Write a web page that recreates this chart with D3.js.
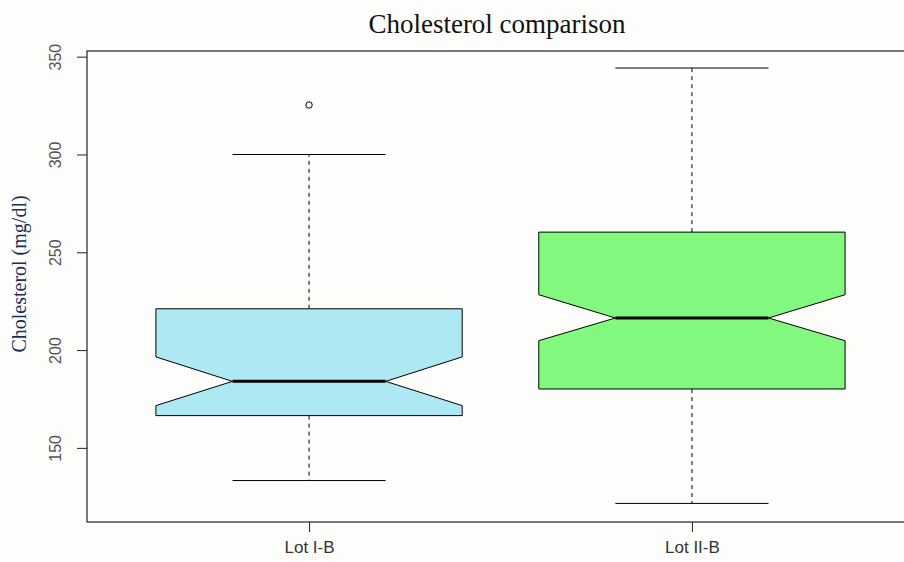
<!DOCTYPE html>
<html>
<head>
<meta charset="utf-8">
<script src="https://cdn.jsdelivr.net/npm/d3@7"></script>
<style>
  html, body { margin: 0; padding: 0; background: #fdfdfb; }
  svg { display: block; }
</style>
</head>
<body>
<svg id="chart" width="904" height="562"></svg>
<script>
// ---- data ----
const categories = ["Lot I-B", "Lot II-B"];
const whiskerLow  = [133.3, 121.6];
const q1          = [166.5, 180.1];
const medians     = [184.0, 216.4];
const q3          = [221.1, 260.3];
const whiskerHigh = [300.0, 344.2];
const notchLow    = [171.6, 204.8];
const notchHigh   = [196.5, 228.3];
const outliers    = [[325.3], []];
const fills       = ["#aee8f2", "#82f97e"];
const yTicks      = [150, 200, 250, 300, 350];

const title = "Cholesterol comparison";
const yLabel = "Cholesterol (mg/dl)";

// ---- layout ----
const svg = d3.select("#chart");
const mLeft = 87, mRight = 914, mTop = 51, mBottom = 522;

const x = d3.scaleLinear().domain([0.42, 2.58]).range([mLeft, mRight]);
const y = d3.scaleLinear().domain([112.1, 352.9]).range([mBottom, mTop]);

const boxHalf = (x(1.4) - x(1)); // half of 0.8 width
const g = svg.append("g");

categories.forEach((c, i) => {
  const cx = x(i + 1);
  const w = boxHalf;
  // whiskers (dashed)
  g.append("line").attr("x1", cx).attr("x2", cx)
    .attr("y1", y(q3[i])).attr("y2", y(whiskerHigh[i]))
    .attr("stroke", "#000").attr("stroke-width", 1).attr("stroke-dasharray", "4,4");
  g.append("line").attr("x1", cx).attr("x2", cx)
    .attr("y1", y(q1[i])).attr("y2", y(whiskerLow[i]))
    .attr("stroke", "#000").attr("stroke-width", 1).attr("stroke-dasharray", "4,4");
  // staples
  [whiskerLow[i], whiskerHigh[i]].forEach(v => {
    g.append("line").attr("x1", cx - w / 2).attr("x2", cx + w / 2)
      .attr("y1", y(v)).attr("y2", y(v))
      .attr("stroke", "#000").attr("stroke-width", 1);
  });
  // notched box
  const pts = [
    [cx - w, y(q1[i])], [cx - w, y(notchLow[i])], [cx - w / 2, y(medians[i])],
    [cx - w, y(notchHigh[i])], [cx - w, y(q3[i])], [cx + w, y(q3[i])],
    [cx + w, y(notchHigh[i])], [cx + w / 2, y(medians[i])], [cx + w, y(notchLow[i])],
    [cx + w, y(q1[i])]
  ];
  g.append("path").attr("d", d3.line()(pts) + "Z")
    .attr("fill", fills[i]).attr("stroke", "#000").attr("stroke-width", 1)
    .attr("stroke-linejoin", "miter");
  // median
  g.append("line").attr("x1", cx - w / 2).attr("x2", cx + w / 2)
    .attr("y1", y(medians[i])).attr("y2", y(medians[i]))
    .attr("stroke", "#000").attr("stroke-width", 3);
  // outliers
  outliers[i].forEach(v => {
    g.append("circle").attr("cx", cx).attr("cy", y(v)).attr("r", 3.2)
      .attr("fill", "none").attr("stroke", "#000").attr("stroke-width", 1);
  });
});

// plot frame
svg.append("rect").attr("x", mLeft).attr("y", mTop)
  .attr("width", mRight - mLeft).attr("height", mBottom - mTop)
  .attr("fill", "none").attr("stroke", "#222").attr("stroke-width", 1.2);

// y axis
const yAxis = d3.axisLeft(y).tickValues(yTicks).tickSize(10).tickSizeOuter(0);
const ya = svg.append("g").attr("transform", `translate(${mLeft},0)`).call(yAxis);
ya.select(".domain").remove();
ya.selectAll(".tick line").attr("stroke", "#222");
ya.selectAll(".tick text")
  .attr("x", null).attr("dy", null).attr("y", 0)
  .attr("text-anchor", "middle")
  .attr("font-family", "Liberation Sans, Arial, sans-serif")
  .attr("font-size", 16).attr("fill", "#555")
  .attr("transform", "translate(-26,0) rotate(-90)");

// x axis
const xAxis = d3.axisBottom(x).tickValues([1, 2]).tickFormat((d) => categories[d - 1])
  .tickSize(10).tickSizeOuter(0);
const xa = svg.append("g").attr("transform", `translate(0,${mBottom})`).call(xAxis);
xa.select(".domain").remove();
xa.selectAll(".tick line").attr("stroke", "#222");
xa.selectAll(".tick text")
  .attr("font-family", "Liberation Sans, Arial, sans-serif")
  .attr("font-size", 17).attr("fill", "#333")
  .attr("y", 31).attr("dy", 0);

// title
svg.append("text").attr("x", 497).attr("y", 33).attr("text-anchor", "middle")
  .attr("font-family", "Liberation Serif, Times New Roman, serif")
  .attr("font-size", 27).attr("fill", "#111").text(title);

// y label
svg.append("text").attr("transform", "translate(26,274) rotate(-90)")
  .attr("text-anchor", "middle")
  .attr("font-family", "Liberation Serif, Times New Roman, serif")
  .attr("font-size", 20).attr("fill", "#1e2d58").text(yLabel);
</script>
</body>
</html>
